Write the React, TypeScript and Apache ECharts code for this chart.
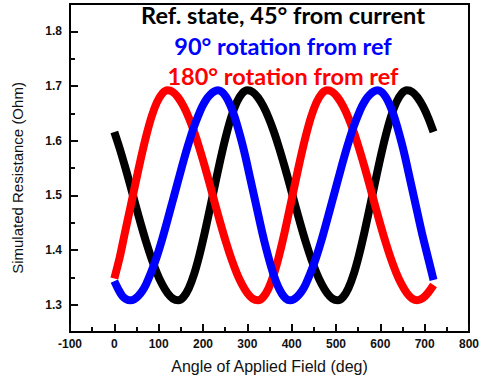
import React, { useEffect, useRef } from "react";
import * as echarts from "echarts";

// Field angles (deg) at which each simulated curve is sampled
const angleGrid = (step: number): number[] => {
  const out: number[] = [];
  for (let a = 0; a <= 720; a += step) out.push(a);
  return out;
};
const anglesRefAnd180 = angleGrid(12);
const angles90 = angleGrid(9);

// Simulated resistance (Ohm), reference state 45° from current
const refState = [
  1.616, 1.586, 1.553, 1.518, 1.482, 1.447, 1.414, 1.384, 1.358, 1.337, 1.321,
  1.311, 1.308, 1.314, 1.33, 1.356, 1.391, 1.432, 1.477, 1.523, 1.568, 1.609,
  1.644, 1.67, 1.686, 1.692, 1.689, 1.679, 1.663, 1.642, 1.616, 1.586, 1.553,
  1.518, 1.482, 1.447, 1.414, 1.384, 1.358, 1.337, 1.321, 1.311, 1.308, 1.314,
  1.33, 1.356, 1.391, 1.432, 1.477, 1.523, 1.568, 1.609, 1.644, 1.67, 1.686,
  1.692, 1.689, 1.679, 1.663, 1.642, 1.616,
];

// Simulated resistance (Ohm), 180° rotation from ref
const rot180 = [
  1.348, 1.386, 1.432, 1.477, 1.523, 1.568, 1.609, 1.644, 1.67, 1.686, 1.692,
  1.689, 1.679, 1.663, 1.642, 1.616, 1.586, 1.553, 1.518, 1.482, 1.447, 1.414,
  1.384, 1.358, 1.337, 1.321, 1.311, 1.308, 1.314, 1.33, 1.356, 1.391, 1.432,
  1.477, 1.523, 1.568, 1.609, 1.644, 1.67, 1.686, 1.692, 1.689, 1.679, 1.663,
  1.642, 1.616, 1.586, 1.553, 1.518, 1.482, 1.447, 1.414, 1.384, 1.358, 1.337,
  1.321, 1.311, 1.308, 1.312, 1.322, 1.336,
];

// Simulated resistance (Ohm), 90° rotation from ref
const rot90 = [
  1.343, 1.328, 1.316, 1.31, 1.308, 1.31, 1.316, 1.325, 1.338, 1.355, 1.374,
  1.396, 1.42, 1.446, 1.473, 1.5, 1.527, 1.554, 1.58, 1.604, 1.626, 1.645,
  1.662, 1.675, 1.684, 1.69, 1.692, 1.689, 1.68, 1.666, 1.647, 1.623, 1.596,
  1.566, 1.533, 1.5, 1.467, 1.434, 1.404, 1.377, 1.353, 1.334, 1.32, 1.311,
  1.308, 1.31, 1.316, 1.325, 1.338, 1.355, 1.374, 1.396, 1.42, 1.446, 1.473,
  1.5, 1.527, 1.554, 1.58, 1.604, 1.626, 1.645, 1.662, 1.675, 1.684, 1.69,
  1.692, 1.689, 1.68, 1.666, 1.647, 1.623, 1.596, 1.566, 1.533, 1.5, 1.467,
  1.434, 1.404, 1.375, 1.345,
];

// Axis tick values
const xMinorTicks = [-50, 50, 150, 250, 350, 450, 550, 650, 750];
const yMajorTicks = [1.3, 1.4, 1.5, 1.6, 1.7, 1.8];
const yMinorTicks = [1.35, 1.45, 1.55, 1.65, 1.75];

const legendLines = [
  { text: "Ref. state, 45° from current", color: "#000000" },
  { text: "90° rotation from ref", color: "#0000ff" },
  { text: "180° rotation from ref", color: "#ff0000" },
];

const pairs = (xs: number[], ys: number[]) => ys.map((y, i) => [xs[i], y]);

const TICK_COLOR = "#0a0a0a";

export default function App() {
  const ref = useRef<HTMLDivElement>(null);

  useEffect(() => {
    if (!ref.current) return;
    const chart = echarts.init(ref.current, undefined, { renderer: "svg" });
    const labelStyle = {
      color: "#111",
      fontFamily: "Liberation Sans, Arial, sans-serif",
      fontWeight: "bold" as const,
      fontSize: 12,
    };
    const nameStyle = {
      color: "#111",
      fontFamily: "Liberation Sans, Arial, sans-serif",
      fontSize: 15,
    };
    const lineSeries = (name: string, data: number[][], color: string) => ({
      name,
      type: "line" as const,
      data,
      showSymbol: false,
      smooth: 0.3,
      lineStyle: { color, width: 8, cap: "butt" as const, join: "round" as const },
      itemStyle: { color },
    });

    chart.setOption({
      animation: false,
      grid: {
        left: 70,
        right: 7,
        top: 4,
        bottom: 49,
        show: true,
        borderColor: "#000",
        borderWidth: 2,
      },
      xAxis: [
        {
          type: "value",
          min: -100,
          max: 800,
          interval: 100,
          name: "Angle of Applied Field (deg)",
          nameLocation: "middle",
          nameGap: 26,
          nameTextStyle: { ...nameStyle, fontSize: 16 },
          axisLine: { show: true, onZero: false, lineStyle: { color: "#000", width: 2 } },
          axisTick: { show: true, inside: true, length: 8, lineStyle: { color: TICK_COLOR, width: 2 } },
          axisLabel: { ...labelStyle, margin: 6 },
          splitLine: { show: false },
        },
        {
          type: "value",
          min: -100,
          max: 800,
          position: "bottom",
          axisLine: { show: false, onZero: false },
          axisTick: { show: true, inside: true, length: 5, customValues: xMinorTicks, lineStyle: { color: TICK_COLOR, width: 2 } },
          axisLabel: { show: false },
          splitLine: { show: false },
        },
      ],
      yAxis: [
        {
          type: "value",
          min: 1.25,
          max: 1.85,
          name: "Simulated Resistance (Ohm)",
          nameLocation: "middle",
          nameGap: 45,
          nameRotate: 90,
          nameTextStyle: { ...nameStyle, padding: [0, 20, 0, 0] },
          axisLine: { show: true, onZero: false, lineStyle: { color: "#000", width: 2 } },
          axisTick: { show: true, inside: true, length: 8, customValues: yMajorTicks, lineStyle: { color: TICK_COLOR, width: 2 } },
          axisLabel: {
            ...labelStyle,
            margin: 8,
            customValues: yMajorTicks,
            formatter: (v: number) => v.toFixed(1),
          },
          splitLine: { show: false },
        },
        {
          type: "value",
          min: 1.25,
          max: 1.85,
          position: "left",
          axisLine: { show: false, onZero: false },
          axisTick: { show: true, inside: true, length: 5, customValues: yMinorTicks, lineStyle: { color: TICK_COLOR, width: 2 } },
          axisLabel: { show: false },
          splitLine: { show: false },
        },
      ],
      series: [
        lineSeries("Ref. state, 45° from current", pairs(anglesRefAnd180, refState), "#000000"),
        lineSeries("180° rotation from ref", pairs(anglesRefAnd180, rot180), "#ff0000"),
        lineSeries("90° rotation from ref", pairs(angles90, rot90), "#0000ff"),
      ],
      graphic: legendLines.map((l, i) => ({
        type: "text",
        x: 283,
        y: 15 + i * 30.5,
        z: 100,
        style: {
          text: l.text,
          fill: l.color,
          font: "bold 23.5px Lato, 'Open Sans', sans-serif",
          align: "center",
          verticalAlign: "middle",
        },
      })),
    });

    return () => chart.dispose();
  }, []);

  return (
    <div
      ref={ref}
      style={{ position: "fixed", left: 0, top: 0, width: 482, height: 381, background: "#fff" }}
    />
  );
}
